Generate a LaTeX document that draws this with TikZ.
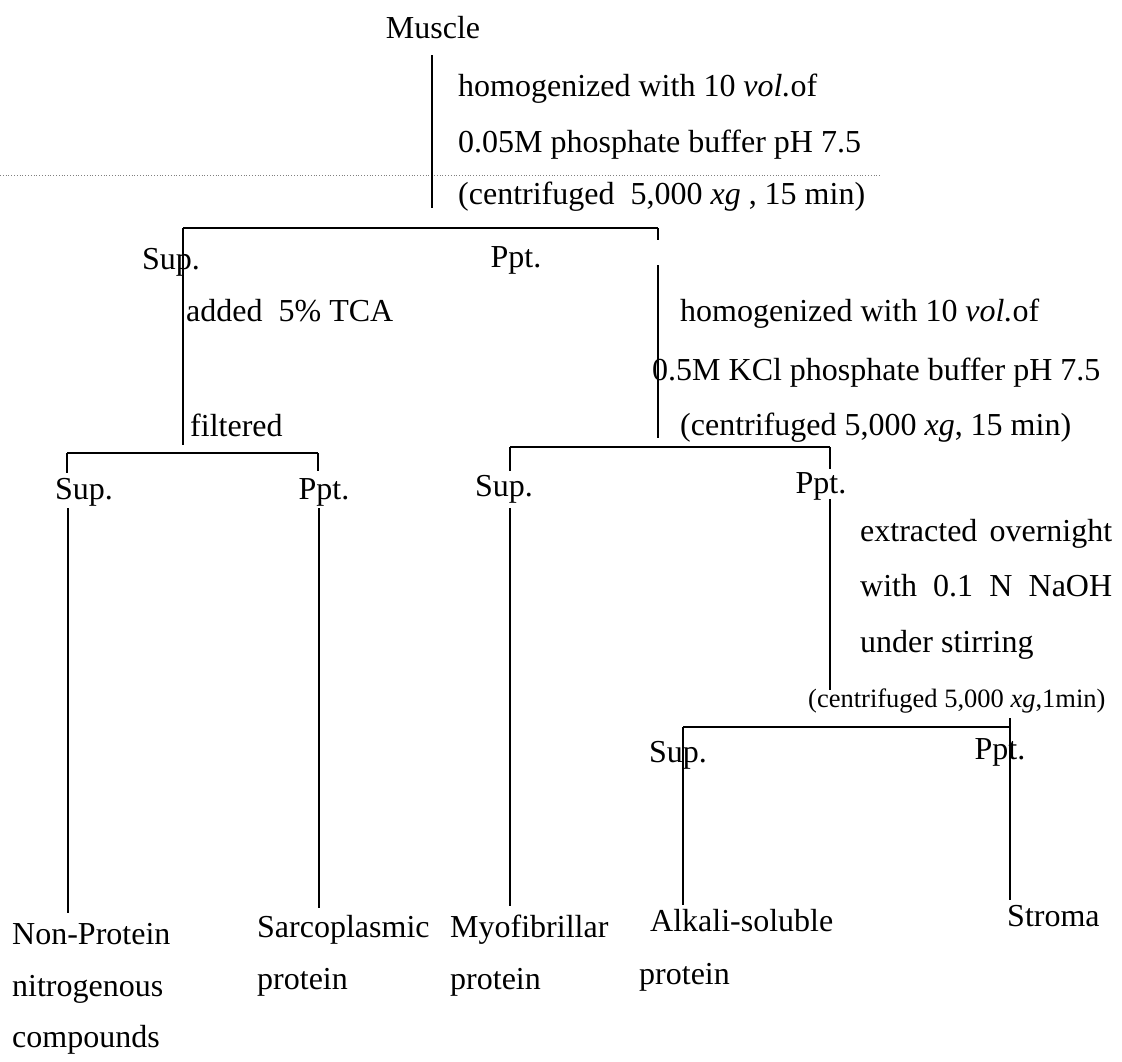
\documentclass[tikz,border=0pt]{standalone}
\usepackage{fontspec}
\setmainfont{Liberation Serif}
\usetikzlibrary{calc}
\tikzset{
  txt/.style={inner sep=0pt, anchor=base west, font=\fontsize{32}{38}\selectfont},
  lbl/.style={inner sep=0pt, anchor=base, font=\fontsize{32}{38}\selectfont},
  smalltxt/.style={inner sep=0pt, anchor=base west, font=\fontsize{26.5}{30}\selectfont},
  link/.style={line width=2.6pt},
}

\begin{document}
\begin{tikzpicture}[x=1pt,y=-1pt]
  \useasboundingbox (0,0) rectangle (1122,1061);
  \draw[gray, dotted, line width=0.8pt] (0,175) -- (880,175);

  \node[lbl] (muscle) at (433,38) {Muscle};
  \node[txt] (h1) at (458,96) {homogenized with 10 \textit{vol.}of};
  \node[txt] (h2) at (458,152) {0.05M phosphate buffer pH 7.5};
  \node[txt] (h3) at (458,204) {(centrifuged\ \ 5,000 \textit{xg} , 15 min)};

  \node[lbl] (sup1) at (171,269) {Sup.};
  \node[lbl] (ppt1) at (516,267) {Ppt.};
  \node[txt] (tca) at (186,321) {added\ \ 5\% TCA};
  \node[txt] (filt) at (190,436) {filtered};
  \node[txt] (k1) at (680,321) {homogenized with 10 \textit{vol.}of};
  \node[txt] (k2) at (652,380) {0.5M KCl phosphate buffer pH 7.5};
  \node[txt] (k3) at (680,435) {(centrifuged 5,000 \textit{xg}, 15 min)};

  \node[lbl] (sup2) at (84,499) {Sup.};
  \node[lbl] (ppt2) at (324,499) {Ppt.};
  \node[lbl] (sup3) at (504,496) {Sup.};
  \node[lbl] (ppt3) at (821,493) {Ppt.};
  \node[txt] (n1) at (860,541) {\makebox[252pt][s]{extracted overnight}};
  \node[txt] (n2) at (860,596) {\makebox[252pt][s]{with 0.1 N NaOH}};
  \node[txt] (n3) at (860,652) {under stirring};
  \node[smalltxt] (c4) at (808,707) {(centrifuged 5,000 \textit{xg},1min)};
  \node[lbl] (sup4) at (678,762) {Sup.};
  \node[lbl] (ppt4) at (1000,759) {Ppt.};

  \node[txt] (np1) at (12,944) {Non-Protein};
  \node[txt] (np2) at (12,996) {nitrogenous};
  \node[txt] (np3) at (12,1047) {compounds};
  \node[txt] (sp1) at (257,937) {Sarcoplasmic};
  \node[txt] (sp2) at (257,989) {protein};
  \node[txt] (mf1) at (450,937) {Myofibrillar};
  \node[txt] (mf2) at (450,989) {protein};
  \node[txt] (al1) at (650,931) {Alkali-soluble};
  \node[txt] (al2) at (639,984) {protein};
  \node[txt] (st) at (1007,926) {Stroma};

  \coordinate (M1) at (432,55);
  \coordinate (M2) at (432,208);
  \coordinate (B1L) at (183,228);
  \coordinate (B1R) at (658,228);
  \coordinate (L1) at (183,445);
  \coordinate (R1a) at (658,240);
  \coordinate (R1b) at (658,265);
  \coordinate (R1c) at (658,438);
  \coordinate (B2L) at (67,453);
  \coordinate (B2R) at (318,453);
  \coordinate (B3L) at (510,447);
  \coordinate (B3R) at (830,447);
  \coordinate (B4L) at (683,727);
  \coordinate (B4R) at (1010,727);

  \draw[link] (M1) -- (M2);
  \draw[link] (B1L) -- (B1R);
  \draw[link] (B1L) -- (L1);
  \draw[link] (B1R) -- (R1a);
  \draw[link] (R1b) -- (R1c);

  \draw[link] (B2L) -- (B2R);
  \draw[link] (B2L) -- ++(0,20);
  \draw[link] (B2R) -- ++(0,18);
  \draw[link] (68,508) -- (68,913);
  \draw[link] (319,508) -- (319,908);

  \draw[link] (B3L) -- (B3R);
  \draw[link] (B3L) -- ++(0,24);
  \draw[link] (B3R) -- ++(0,22);
  \draw[link] (510,508) -- (510,906);
  \draw[link] (830,499) -- (830,690);

  \draw[link] (B4L) -- (B4R);
  \draw[link] (B4L) -- (683,905);
  \draw[link] (1010,718) -- (1010,900);
\end{tikzpicture}
\end{document}
